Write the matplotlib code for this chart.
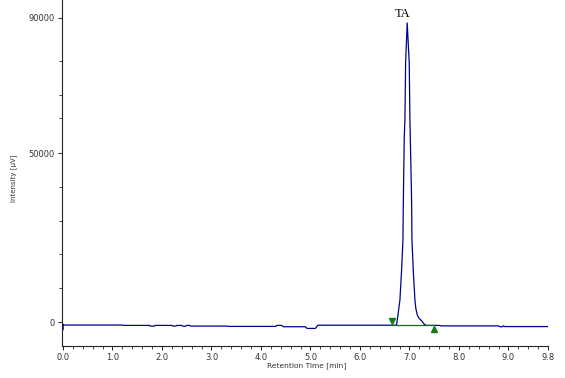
import matplotlib
matplotlib.use('Agg')
import matplotlib.pyplot as plt

# chromatogram trace: time [min], intensity [uV]
time = [-0.01, -0.005, 0.00, 0.02, 1.20, 1.22, 1.75, 1.76, 1.85, 1.86, 2.20, 2.22,
        2.28, 2.30, 2.40, 2.42, 2.48, 2.50, 2.55, 2.58, 3.30, 3.35, 4.30, 4.32,
        4.42, 4.45, 4.90, 4.93, 5.10, 5.15, 6.70, 6.74,
        6.768, 6.808, 6.842, 6.869, 6.875, 6.895, 6.909, 6.923, 6.955,
        6.996, 7.010, 7.040, 7.046, 7.051, 7.077, 7.111, 7.130, 7.158, 7.200, 7.246,
        7.30, 7.35, 7.60, 7.65, 8.80, 8.83, 8.88, 8.90, 8.92, 9.80]
intensity = [-600, -2400, -700, -900, -900, -1000, -1000, -1200, -1200, -1000, -1000, -1200,
             -1200, -1000, -1000, -1250, -1250, -1000, -1000, -1200, -1200, -1300, -1300, -1000,
             -1000, -1400, -1400, -1900, -1900, -950, -950, -900,
             2070, 6500, 15400, 24300, 33150, 54500, 59800, 76700, 88500,
             76700, 59800, 39100, 33150, 24300, 15400, 6500, 4000, 2070, 1000, 385,
             -700, -1000, -1000, -1150, -1150, -1400, -1400, -1100, -1350, -1350]

# integration baseline and its start/end markers
base_t = [6.65, 7.50]
base_i = [-900, -900]
start_mark = (6.65, 400)
end_mark = (7.50, -2100)

peak_name = 'TA'
peak_label_pos = (6.87, 91200)

x_major = [0, 1, 2, 3, 4, 5, 6, 7, 8, 9, 9.8]
x_labels = ['0.0', '1.0', '2.0', '3.0', '4.0', '5.0', '6.0', '7.0', '8.0', '9.0', '9.8']
y_major = [0, 50000, 90000]
y_minor = [10000, 20000, 30000, 40000, 60400, 67200, 77300]

fig = plt.figure(figsize=(5.65, 3.78), dpi=100)
ax = fig.add_axes([62 / 565, 32 / 378, 486 / 565, 346 / 378])

ax.plot(time, intensity, color='#00008b', lw=0.9)
ax.plot(base_t, base_i, color='#1a6b1a', lw=0.9)
ax.plot(*start_mark, marker='v', color='#1a7a1a', ms=4, ls='none')
ax.plot(*end_mark, marker='^', color='#1a7a1a', ms=4, ls='none')
ax.text(*peak_label_pos, peak_name, family='Liberation Serif', fontsize=9,
        ha='center', va='center')

ax.set_xlim(-0.02, 9.8)
ax.set_ylim(-7100, 95300)

for s in ['top', 'right']:
    ax.spines[s].set_visible(False)
for s in ['left', 'bottom']:
    ax.spines[s].set_color('#222222')
    ax.spines[s].set_linewidth(0.8)

ax.set_xticks(x_major)
ax.set_xticklabels(x_labels)
ax.set_xticks([i * 0.2 for i in range(50) if i % 5 != 0], minor=True)
ax.set_yticks(y_major)
ax.set_yticks(y_minor, minor=True)
ax.tick_params(which='major', length=3, width=0.7, pad=2, labelsize=6,
               labelcolor='#333333', color='#222222')
ax.tick_params(which='minor', length=2.5, width=0.6, color='#222222')

fig.text(14 / 565, 1 - 178 / 378, 'Intensity [µV]', rotation=90, fontsize=5,
         ha='center', va='center', color='#333333')
fig.text(307 / 565, 1 - 366 / 378, 'Retention Time [min]', fontsize=5.4,
         ha='center', va='center', color='#333333')

fig.savefig('out.png', dpi=100)
